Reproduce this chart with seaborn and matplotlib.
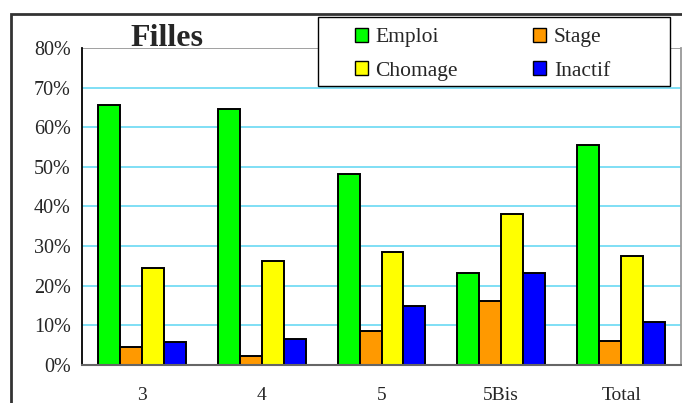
import numpy as np
import matplotlib.pyplot as plt
import matplotlib.patches as mpatches
import pandas as pd
import seaborn as sns

# Données (en %)
groupes = ['3', '4', '5', '5Bis', 'Total']
series = ['Emploi', 'Stage', 'Chomage', 'Inactif']
emploi = [65.6, 64.6, 48.2, 23.2, 55.5]
stage = [4.4, 2.1, 8.6, 16.2, 6.1]
chomage = [24.4, 26.1, 28.4, 38.0, 27.5]
inactif = [5.7, 6.6, 14.8, 23.2, 10.9]
couleurs = ['#00ff00', '#ff9900', '#ffff00', '#0000ff']
yticks = [0, 10, 20, 30, 40, 50, 60, 70, 80]

df = pd.DataFrame({'groupe': groupes * 4,
                   'serie': np.repeat(series, len(groupes)),
                   'valeur': emploi + stage + chomage + inactif})

sns.set_style('white')
plt.rcParams['font.family'] = ['Liberation Serif', 'DejaVu Serif']

fig = plt.figure(figsize=(6.82, 4.03), dpi=100)
ax = fig.add_axes([82/682, 1 - 364.7/403, (681 - 82)/682, (364.7 - 48)/403])

sns.barplot(data=df, x='groupe', y='valeur', hue='serie', order=groupes,
            hue_order=series, palette=couleurs, width=0.733, ax=ax,
            edgecolor='black', linewidth=1.4, saturation=1, legend=False)

ax.set_ylim(0, 80)
ax.set_xlim(-0.5, 4.5)
ax.set_yticks(yticks)
ax.set_yticklabels([f'{v}%' for v in yticks], fontsize=14.5)
for v in yticks[1:-1]:
    ax.axhline(v, color='#5dd6f2', lw=1.1, zorder=0)
ax.axhline(80, color='#999999', lw=1.3, zorder=0)

ax.set_xticks(np.arange(-0.5, 5, 1))
ax.set_xticklabels([])
ax.set_xticks(range(len(groupes)), minor=True)
ax.set_xticklabels(groupes, minor=True, fontsize=14)
ax.tick_params(axis='x', which='major', direction='out', length=5, color='#555555', width=1)
ax.tick_params(axis='x', which='minor', length=0, pad=16)
ax.tick_params(axis='y', direction='out', length=5, color='black', width=1, pad=3)
ax.set_xlabel('')
ax.set_ylabel('')

ax.spines['top'].set_visible(False)
ax.spines['left'].set_color('black')
ax.spines['left'].set_linewidth(1.3)
ax.spines['bottom'].set_color('#666666')
ax.spines['bottom'].set_linewidth(1.5)
ax.spines['right'].set_color('#999999')
ax.spines['right'].set_linewidth(1.3)

# cadre extérieur
fig.patches.append(mpatches.Rectangle((11/682, -0.1), 1.2, 1 - 14/403 + 0.1,
                                      transform=fig.transFigure, fill=False,
                                      edgecolor='#333333', lw=2, clip_on=False))

fig.text(130/682, 1 - 38/403, 'Filles', fontsize=23, fontweight='bold',
         va='center', ha='left')

# cadre de la légende
fig.patches.append(mpatches.Rectangle((318/682, 1 - 86/403), (670 - 318)/682, 69/403,
                                      transform=fig.transFigure, facecolor='white',
                                      edgecolor='black', lw=1, zorder=5))

poignees = [mpatches.Patch(facecolor=c, edgecolor='black', lw=1) for c in couleurs]
ordre = [0, 2, 1, 3]
leg = fig.legend([poignees[i] for i in ordre], [series[i] for i in ordre],
                 ncol=2, loc='upper left', bbox_to_anchor=(355/682, 1 - 28/403),
                 frameon=False, fontsize=15.5,
                 handlelength=0.6, handleheight=0.6, handletextpad=0.35,
                 columnspacing=3.5, borderpad=0, labelspacing=0.65,
                 borderaxespad=0)
leg.set_zorder(6)

fig.savefig('out.png', dpi=100)
